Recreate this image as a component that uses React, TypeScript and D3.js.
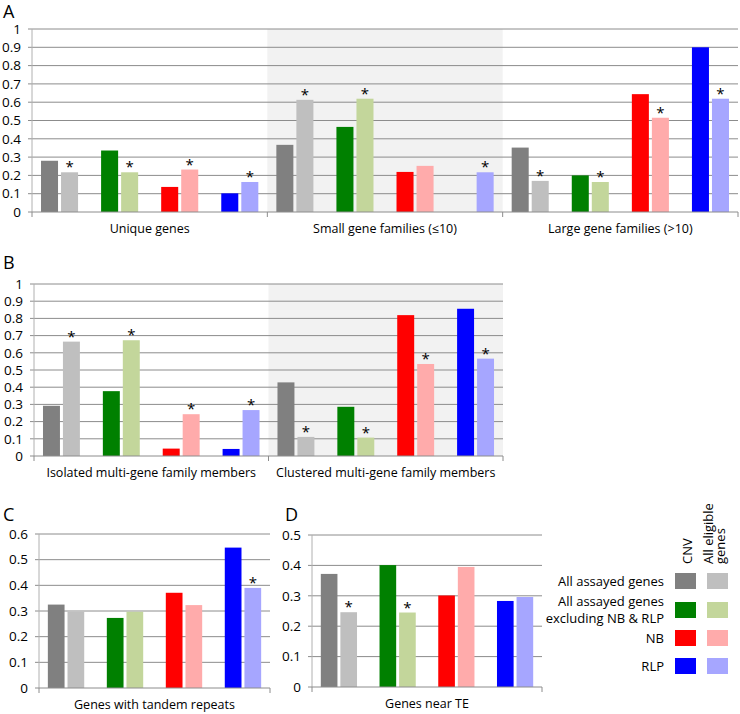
import * as d3 from "d3"

// series order: CNV / all eligible for each gene set
const seriesNames = [
  "All assayed genes CNV",
  "All assayed genes eligible",
  "Excl NB & RLP CNV",
  "Excl NB & RLP eligible",
  "NB CNV",
  "NB eligible",
  "RLP CNV",
  "RLP eligible",
]
const seriesColors = ["#808080", "#bfbfbf", "#008000", "#c3d69b", "#ff0000", "#ffabab", "#0000ff", "#a6a6ff"]
// slot index of each series inside a category (blank slots between pairs)
const seriesSlots = [0, 1, 3, 4, 6, 7, 9, 10]

const catsA = ["Unique genes", "Small gene families (≤10)", "Large gene families (>10)"]
const valsA = [
  [0.28, 0.217, 0.336, 0.217, 0.137, 0.232, 0.102, 0.164],
  [0.367, 0.613, 0.465, 0.619, 0.219, 0.252, null, 0.217],
  [0.352, 0.17, 0.2, 0.164, 0.644, 0.515, 0.9, 0.619],
]
const starsA = [[1, 3, 5, 7], [1, 3, 7], [1, 3, 5, 7]]

const catsB = ["Isolated multi-gene family members", "Clustered multi-gene family members"]
const valsB = [
  [0.292, 0.665, 0.377, 0.673, 0.043, 0.243, 0.041, 0.267],
  [0.428, 0.111, 0.286, 0.107, 0.819, 0.535, 0.856, 0.566],
]
const starsB = [[1, 3, 5, 7], [1, 3, 5, 7]]

const catsC = ["Genes with tandem repeats"]
const valsC = [[0.325, 0.297, 0.273, 0.297, 0.371, 0.323, 0.547, 0.39]]
const starsC = [[7]]

const catsD = ["Genes  near TE"]
const valsD = [[0.372, 0.246, 0.401, 0.245, 0.301, 0.395, 0.283, 0.296]]
const starsD = [[1, 3]]

const legendRows = [["All assayed genes"], ["All assayed genes", "excluding NB & RLP"], ["NB"], ["RLP"]]

const FONT = "'Open Sans', sans-serif"
const GRID = "#8c8c8c"

type PanelProps = {
  letter: string
  letterX: number
  letterY: number
  x0: number
  x1: number
  yTop: number
  yZero: number
  max: number
  cats: string[]
  vals: (number | null)[][]
  stars: number[][]
  shaded?: number
}

function Panel(p: PanelProps) {
  const y = d3.scaleLinear().domain([0, p.max]).range([p.yZero, p.yTop])
  const ticks = d3.range(0, p.max + 0.001, 0.1)
  const xCat = d3.scaleBand<string>().domain(p.cats).range([p.x0, p.x1])
  const xSlot = d3
    .scaleBand<number>()
    .domain(d3.range(11))
    .range([0, xCat.bandwidth()])
    .paddingInner(0.15)
    .paddingOuter(0.45)
  const fmt = (d: number) => String(+d.toFixed(1))

  return (
    <g>
      <text x={p.letterX} y={p.letterY} fontFamily={FONT} fontSize={18} fill="#000">
        {p.letter}
      </text>
      {p.shaded != null && (
        <rect
          x={xCat(p.cats[p.shaded])}
          y={p.yTop}
          width={xCat.bandwidth()}
          height={p.yZero - p.yTop}
          fill="#f2f2f2"
        />
      )}
      {ticks.map((t, i) => (
        <g key={i}>
          {i > 0 && <line x1={p.x0 - 4} x2={p.x1} y1={y(t)} y2={y(t)} stroke={GRID} strokeWidth={1} />}
          <text
            x={p.x0 - 11}
            y={y(t)}
            dy="0.35em"
            textAnchor="end"
            fontFamily={FONT}
            fontSize={13.5}
            fill="#000"
          >
            {fmt(t)}
          </text>
        </g>
      ))}
      <line x1={p.x0} x2={p.x0} y1={p.yTop} y2={p.yZero} stroke="#b0b0b0" strokeWidth={1} />
      {p.vals.map((row, ci) => {
        const cx = xCat(p.cats[ci])!
        return (
          <g key={ci}>
            {row.map((v, si) => {
              if (v == null) return null
              const bx = cx + xSlot(seriesSlots[si])!
              return (
                <g key={si}>
                  <rect x={bx} y={y(v)} width={xSlot.bandwidth()} height={p.yZero - y(v)} fill={seriesColors[si]} />
                  {p.stars[ci].includes(si) && (
                    <text
                      x={bx + xSlot.bandwidth() / 2}
                      y={y(v)}
                      textAnchor="middle"
                      fontFamily={FONT}
                      fontSize={15}
                      fill="#000"
                    >
                      *
                    </text>
                  )}
                </g>
              )
            })}
            <text
              x={cx + xCat.bandwidth() / 2}
              y={p.yZero + 21}
              textAnchor="middle"
              fontFamily={FONT}
              fontSize={12.5}
              fill="#000"
            >
              {p.cats[ci]}
            </text>
          </g>
        )
      })}
      <line x1={p.x0 - 4} x2={p.x1} y1={p.yZero} y2={p.yZero} stroke={GRID} strokeWidth={1} />
      {[...p.cats.map((c) => xCat(c)!), p.x1].map((bx, i) => (
        <line key={i} x1={bx} x2={bx} y1={p.yZero} y2={p.yZero + 5} stroke={GRID} strokeWidth={1} />
      ))}
    </g>
  )
}

function Legend() {
  const labelX = 664
  const swX = [675, 707]
  const rowY = [573, 602, 630, 658]
  return (
    <g fontFamily={FONT} fontSize={13} fill="#000">
      <text transform="translate(692,564) rotate(-90)">CNV</text>
      <text transform="translate(713,564) rotate(-90)">All eligible</text>
      <text transform="translate(725,564) rotate(-90)">genes</text>
      {legendRows.map((lines, i) => (
        <g key={i}>
          {lines.map((l, j) => (
            <text
              key={j}
              x={labelX}
              y={rowY[i] + 8 + (j - (lines.length - 1) / 2) * 17}
              dy="0.35em"
              textAnchor="end"
            >
              {l}
            </text>
          ))}
          {[0, 1].map((k) => (
            <rect key={k} x={swX[k]} y={rowY[i]} width={21} height={16} fill={seriesColors[i * 2 + k]} />
          ))}
        </g>
      ))}
    </g>
  )
}

export default function App() {
  return (
    <svg
      width={740}
      height={714}
      style={{ position: "absolute", left: 0, top: 0, background: "#fff" }}
    >
      <Panel letter="A" letterX={3} letterY={18} x0={32} x1={738} yTop={29} yZero={212} max={1}
        cats={catsA} vals={valsA} stars={starsA} shaded={1} />
      <Panel letter="B" letterX={3} letterY={269} x0={34} x1={503} yTop={284} yZero={456} max={1}
        cats={catsB} vals={valsB} stars={starsB} shaded={1} />
      <Panel letter="C" letterX={3} letterY={521} x0={39} x1={270} yTop={534} yZero={688} max={0.6}
        cats={catsC} vals={valsC} stars={starsC} />
      <Panel letter="D" letterX={285} letterY={521} x0={312} x1={542} yTop={535} yZero={687} max={0.5}
        cats={catsD} vals={valsD} stars={starsD} />
      <Legend />
    </svg>
  )
}
